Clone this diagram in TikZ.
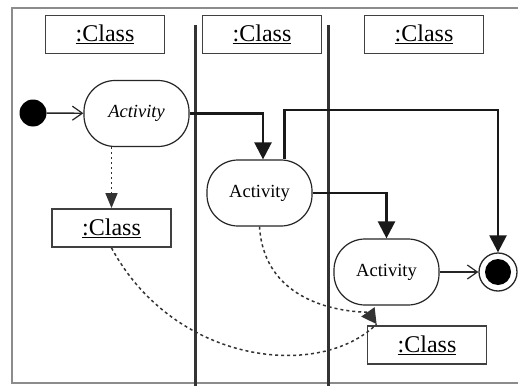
\documentclass[tikz,border=0pt]{standalone}
\usepackage{fontspec}
\setmainfont{Liberation Serif}
\usetikzlibrary{arrows.meta}
\begin{document}
\begin{tikzpicture}[x=1pt,y=-1pt,
  act/.style={draw=black!85, line width=1.2pt, rounded corners=31pt, minimum width=105pt, minimum height=66pt, inner sep=0pt, font=\fontsize{18.5}{20}\selectfont},
  cls/.style={draw=black!75, line width=1.8pt, minimum width=119pt, minimum height=38pt, inner sep=0pt, font=\fontsize{24}{26}\selectfont},
  lane/.style={draw=black!80, line width=3pt},
  flow/.style={draw=black!90, line width=2.4pt, -{Triangle[length=17pt,width=17pt]}},
  objflow/.style={draw=black!80, line width=1.5pt, dash pattern=on 3pt off 3pt},
  openarrow/.style={draw=black!85, line width=1.4pt, -{Straight Barb[length=10pt,width=14pt,line width=1.2pt]}},
]
\useasboundingbox (0,0) rectangle (518,385);
\clip (0,0) rectangle (518,385);
\fill[white] (0,0) rectangle (518,385);
% frame
\draw[black!45, line width=2pt] (530,8) -- (12,8) -- (12,383) -- (530,383);
% swimlane separators
\draw[lane] (195,25) -- (195,390);
\draw[lane] (328,25) -- (328,390);
% headers
\node[cls] (hdr1) at (105,34.5) {\underline{:Class}};
\node[cls] (hdr2) at (262,34.5) {\underline{:Class}};
\node[cls] (hdr3) at (424,34.5) {\underline{:Class}};
% states
\node[circle, fill=black, minimum size=27pt, inner sep=0pt] (init) at (33,113) {};
\node[act, font=\fontsize{18.5}{20}\selectfont\itshape] (act1) at (136.5,113.5) {Activity};
\node[act] (act2) at (259.5,193) {Activity};
\node[act] (act3) at (386.5,272) {Activity};
\node[circle, draw=black!85, line width=1.3pt, minimum size=38pt, inner sep=0pt] (fin) at (498,272) {};
\node[circle, fill=black, minimum size=26pt, inner sep=0pt] (fininner) at (fin) {};
% objects
\node[cls] (cls1) at (111.5,228) {\underline{:Class}};
\node[cls] (cls2) at (427,345) {\underline{:Class}};
% control flows
\draw[openarrow] (init) -- (act1);
\draw[flow] (act1.east) -| ([xshift=3.5pt]act2.north);
\coordinate (turn) at (498,110);
\draw[flow] ([xshift=25pt]act2.north) |- (turn) -- (fin.north);
\draw[flow] (act2.east) -| (act3.north);
\draw[openarrow] (act3) -- (fin);
% object flows
\draw[objflow, dash pattern=on 2pt off 3pt, -{Triangle[length=15pt,width=12pt]}] (act1.south -| cls1.north) -- (cls1.north);
\coordinate (tip) at ([xshift=10pt,yshift=1pt]cls2.north west);
\draw[objflow, -{Triangle[length=15pt,width=16pt]}] (act2.south) .. controls (265,315) and (368,312) .. (tip);
\draw[objflow] (cls1.south) .. controls (175,365) and (320,380) .. (tip);
\end{tikzpicture}
\end{document}
